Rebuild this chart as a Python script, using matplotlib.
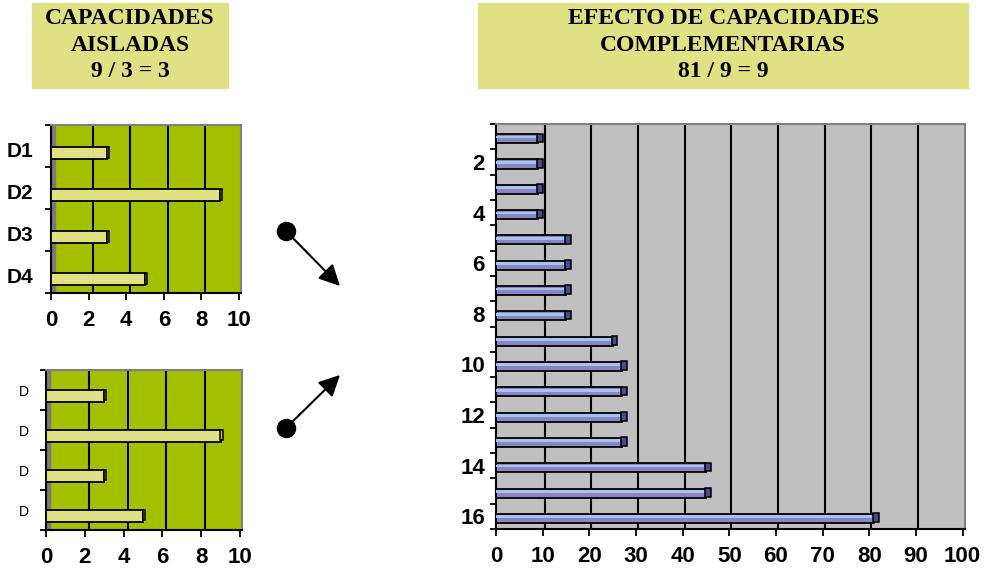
import matplotlib
matplotlib.use("Agg")
import matplotlib.pyplot as plt
import numpy as np
from matplotlib.patches import Rectangle
from matplotlib.transforms import ScaledTranslation

# data
top_labels = ["D1", "D2", "D3", "D4"]
top_values = [3, 9, 3, 5]
low_labels = ["D", "D", "D", "D"]
low_values = [3, 9, 3, 5]
right_cats = list(range(1, 17))
right_values = [9, 9, 9, 9, 15, 15, 15, 15, 25, 27, 27, 27, 27, 45, 45, 81]
right_ticks = [2, 4, 6, 8, 10, 12, 14, 16]
left_title = "CAPACIDADES\nAISLADAS\n9 / 3 = 3"
right_title = "EFECTO DE CAPACIDADES\nCOMPLEMENTARIAS\n81 / 9 = 9"

W, H = 988, 569
fig = plt.figure(figsize=(W / 100, H / 100), dpi=100)


def px(l, t, r, b):
    return [l / W, 1 - b / H, (r - l) / W, (b - t) / H]


def setup(ax, bg, xmax, xstep, ylim, wall=True, grid_dx=4):
    ax.set_facecolor(bg)
    ax.set_xlim(0, xmax)
    ax.set_ylim(*ylim)
    ax.set_xticks(np.arange(0, xmax + 0.1, xstep))
    for s in ["top", "right"]:
        ax.spines[s].set_color("#808080")
        ax.spines[s].set_linewidth(1.5)
    for s in ["left", "bottom"]:
        ax.spines[s].set_color("black")
        ax.spines[s].set_linewidth(1.5)
    off = ScaledTranslation(grid_dx / 100, 0, fig.dpi_scale_trans)
    inner = [t for t in ax.get_xticks() if 0 < t < xmax - 0.5]
    ax.vlines(inner, 0, 1, transform=ax.get_xaxis_transform() + off,
              color="black", lw=1.5, zorder=1)
    if wall:
        ax.add_patch(Rectangle((0, 0), 0.02, 1, transform=ax.transAxes,
                               color="#7a7a7a", zorder=1))


def bars3d(ax, y, vals, h, face, cap, hilite=None):
    vals = np.asarray(vals, float)
    cw = ax.get_xlim()[1] * 0.012
    ax.barh(y, vals, height=h, color=face, edgecolor="black", lw=1.3, zorder=3)
    if hilite:
        ax.barh(np.asarray(y) - h * 0.18, vals - cw * 0.3, height=h * 0.3,
                color=hilite, lw=0, zorder=4)
    ax.barh(np.asarray(y) - h * 0.08, [cw] * len(vals), left=vals - cw * 0.2,
            height=h * 0.95, color=cap, edgecolor="black", lw=1.1, zorder=5)


def cat_ticks(ax, centers, labels, bounds, size, weight, pad):
    ax.set_yticks(centers)
    ax.set_yticklabels(labels, fontsize=size, fontweight=weight,
                       family="Liberation Sans")
    ax.set_yticks(bounds, minor=True)
    ax.tick_params(axis="y", which="major", length=0, pad=pad)
    ax.tick_params(axis="y", which="minor", length=4, width=1.3, direction="out")
    ax.tick_params(axis="x", length=5, width=1.3, pad=7)
    for t in ax.get_xticklabels():
        t.set_fontsize(16)
        t.set_fontweight("bold")
        t.set_family("Liberation Sans")


green = "#a3bf00"
pale = "#e0e084"

# top-left chart
ax1 = fig.add_axes(px(51, 125, 241, 293))
setup(ax1, green, 10.1, 2, (3.5, -0.5))
y1 = np.arange(len(top_values))
bars3d(ax1, y1 + 0.17, top_values, 0.27, pale, "#b8b850")
cat_ticks(ax1, y1 + 0.08, top_labels, np.arange(-0.5, 4, 1), 15, "bold", 13)

# bottom-left chart
ax2 = fig.add_axes(px(46, 370, 242, 530))
setup(ax2, green, 10.1, 2, (3.5, -0.5))
y2 = np.arange(len(low_values))
bars3d(ax2, y2 + 0.15, low_values, 0.28, pale, "#b8b850")
cat_ticks(ax2, y2, low_labels, np.arange(-0.5, 4, 1), 10, "normal", 12)

# right chart
ax3 = fig.add_axes(px(496, 124, 965, 529))
setup(ax3, "#c0c0c0", 100.5, 10, (16.5, 0.5), wall=False, grid_dx=2)
bars3d(ax3, np.array(right_cats) + 0.08, right_values, 0.36, "#8787c6",
       "#4a4a90", hilite="#a9c2ea")
cat_ticks(ax3, right_ticks, [str(t) for t in right_ticks],
          np.arange(0.5, 17, 1), 16, "bold", 8)

# overlay for title boxes and arrows (pixel coords)
ov = fig.add_axes([0, 0, 1, 1])
ov.set_xlim(0, W)
ov.set_ylim(H, 0)
ov.axis("off")
ov.add_patch(Rectangle((32, 3), 196, 85, color=pale, zorder=1))
ov.add_patch(Rectangle((478, 3), 490, 85, color=pale, zorder=1))
tkw = dict(ha="center", va="center", fontsize=17, family="Liberation Serif",
           fontweight="bold", linespacing=1.32, zorder=2)
ov.text(130, 45, left_title, **tkw)
ov.text(723, 45, right_title, **tkw)

for (x0, y0), (x1, y1_) in [((286, 231), (340, 286)), ((286, 428), (340, 375))]:
    ov.annotate("", xy=(x1, y1_), xytext=(x0, y0),
                arrowprops=dict(arrowstyle="-|>", mutation_scale=32, lw=1.5,
                                color="black", shrinkA=0, shrinkB=0))
    ov.plot(x0, y0, "o", ms=13, color="black")

fig.savefig("out.png", dpi=100)
